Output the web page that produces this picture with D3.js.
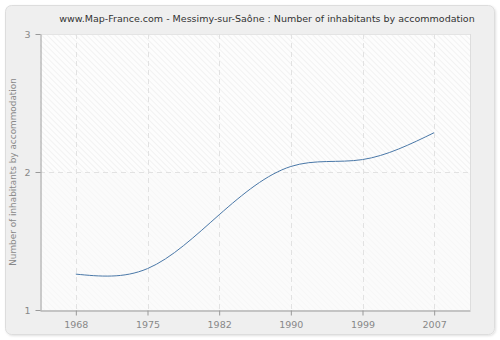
<!DOCTYPE html>
<html><head><meta charset="utf-8">
<script src="https://cdn.jsdelivr.net/npm/d3@7"></script>
<style>body{margin:0;background:#fff}svg{display:block}</style>
</head><body>
<script>
const years = ["1968","1975","1982","1990","1999","2007"];
const values = [1.26, 1.30, 1.69, 2.04, 2.09, 2.285];
const yTicks = [1, 2, 3];
const title = "www.Map-France.com - Messimy-sur-Saône : Number of inhabitants by accommodation";
const yLabel = "Number of inhabitants by accommodation";

const W = 500, H = 340;
const m = {left: 40, right: 30, top: 34, bottom: 30};
const svg = d3.select("body").append("svg").attr("width", W).attr("height", H);
const defs = svg.append("defs");
const pat = defs.append("pattern").attr("id","hatch").attr("patternUnits","userSpaceOnUse")
  .attr("width",4).attr("height",4).attr("patternTransform","rotate(-45)");
pat.append("rect").attr("width",4).attr("height",4).attr("fill","#fdfdfd");
pat.append("line").attr("x1",0).attr("y1",0).attr("x2",0).attr("y2",4).attr("stroke","#ebebeb").attr("stroke-width",1.2);
const f = defs.append("filter").attr("id","sh").attr("x","-5%").attr("y","-5%").attr("width","110%").attr("height","110%");
f.append("feDropShadow").attr("dx",1).attr("dy",1).attr("stdDeviation",1).attr("flood-color","#000").attr("flood-opacity",0.12);

svg.append("rect").attr("x",5.5).attr("y",5.5).attr("width",489).attr("height",329).attr("rx",6)
  .attr("fill","#efefef").attr("stroke","#dddddd").attr("filter","url(#sh)");

const x = d3.scalePoint().domain(years).range([m.left, W - m.right]).padding(0.5);
const y = d3.scaleLinear().domain([1, 3]).range([H - m.bottom, m.top]);

const pw = W - m.right - m.left, ph = H - m.bottom - m.top;
svg.append("rect").attr("x",m.left).attr("y",m.top).attr("width",pw).attr("height",ph).attr("fill","url(#hatch)");
svg.append("rect").attr("x",m.left).attr("y",y(2)).attr("width",pw).attr("height",y(1)-y(2)).attr("fill","#fafafa").attr("opacity",0.6);
svg.append("line").attr("x1",W-m.right+0.5).attr("x2",W-m.right+0.5).attr("y1",m.top).attr("y2",H-m.bottom).attr("stroke","#dddddd");
svg.append("line").attr("x1",m.left).attr("x2",W-m.right).attr("y1",m.top+0.5).attr("y2",m.top+0.5).attr("stroke","#e4e4e4");

// grid
const g = svg.append("g");
g.selectAll(".vg").data(years).join("line")
  .attr("x1",d=>Math.round(x(d))+0.5).attr("x2",d=>Math.round(x(d))+0.5)
  .attr("y1",m.top).attr("y2",H-m.bottom)
  .attr("stroke","#e2e2e2").attr("stroke-dasharray","5,4");
g.selectAll(".hg").data(yTicks.filter(t=>t>1 && t<3)).join("line")
  .attr("x1",m.left).attr("x2",W-m.right)
  .attr("y1",d=>Math.round(y(d))+0.5).attr("y2",d=>Math.round(y(d))+0.5)
  .attr("stroke","#e2e2e2").attr("stroke-dasharray","5,4");

const font = "'DejaVu Sans', Verdana, sans-serif";
// axes
const xa = svg.append("g").attr("transform",`translate(0,${H-m.bottom+0.5})`)
  .call(d3.axisBottom(x).tickSize(5).tickPadding(6).tickSizeOuter(0));
const ya = svg.append("g").attr("transform",`translate(${m.left+0.5},0)`)
  .call(d3.axisLeft(y).tickValues(yTicks).tickFormat(d3.format("d")).tickSize(5).tickPadding(5).tickSizeOuter(0));
[xa, ya].forEach(a => {
  a.select(".domain").attr("stroke","#999");
  a.selectAll(".tick line").attr("stroke","#999");
  a.selectAll("text").attr("fill","#888").style("font-family",font).style("font-size","9.5px");
});
ya.selectAll("text").attr("dy","0.35em");

// line
svg.append("path").datum(values)
  .attr("d", d3.line().x((d,i)=>x(years[i])).y(d=>y(d)).curve(d3.curveNatural))
  .attr("fill","none").attr("stroke","#4a78a8").attr("stroke-width",1);

function fitText(sel, target, base) {
  sel.style("font-size", base + "px");
  const w = sel.node().getComputedTextLength();
  sel.style("font-size", (base * target / w).toFixed(2) + "px");
}
const t = svg.append("text").attr("x",267).attr("y",22).attr("text-anchor","middle")
  .attr("fill","#333").style("font-family",font).text(title);
fitText(t, 416, 10);
const yl = svg.append("text").attr("transform",`translate(16,${(m.top + H - m.bottom)/2}) rotate(-90)`)
  .attr("text-anchor","middle").attr("fill","#888").style("font-family",font).text(yLabel);
fitText(yl, 188, 10);
</script>
</body></html>
